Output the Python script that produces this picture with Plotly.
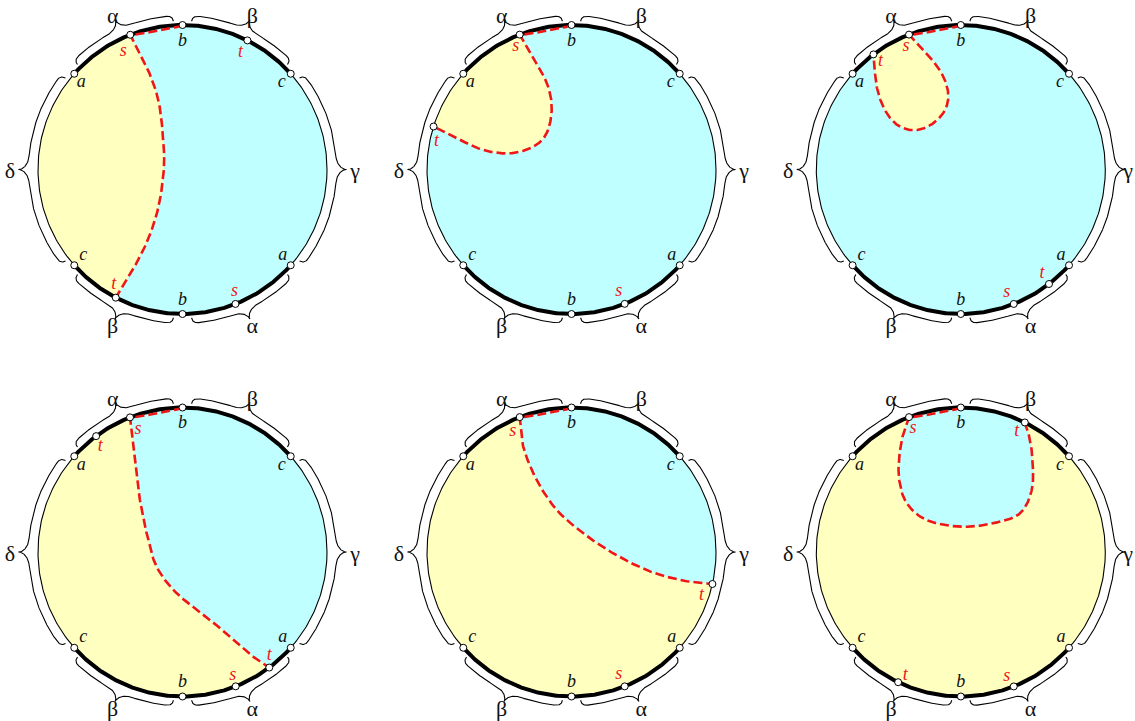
import numpy as np
import plotly.graph_objects as go

# ---------------- data ----------------
FIXED_NAMES = ["b", "a", "c", "c", "a", "b"]
FIXED_ANGLES = [90.0, 138.5, 41.5, 221.5, 318.5, 270.0]
BRACE_NAMES = ["α", "β", "γ", "δ", "β", "α"]
BRACE_MID = [114.25, 65.75, 0.0, 180.0, 245.75, 294.25]
BRACE_HALF = [20.75, 20.75, 38.0, 38.0, 20.75, 20.75]
THICK_ARCS = [[41.5, 138.5], [221.5, 318.5]]

S_POINTS = [[111.2, 291.5], [111.0, 291.6], [111.0, 291.5], [111.3, 291.6], [111.0, 291.6], [111.0, 291.5]]
T_POINTS = [[63.3, 242.5], [162.7], [127.2, 307.6], [126.7, 306.9], [347.2], [63.7, 244.3]]
CURVE_END = [242.5, 162.7, 127.2, 306.9, -12.8, 63.7]
REGION_COLOR = ["yellow", "yellow", "yellow", "yellow", "cyan", "cyan"]

CURVE_1 = [(-0.248, 0.711), (-0.167, 0.481), (-0.133, 0.204), (-0.128, 0.019), (-0.156, -0.211),
           (-0.213, -0.419), (-0.294, -0.603), (-0.375, -0.742)]
CURVE_2 = [(-0.241, 0.735), (-0.161, 0.573), (-0.137, 0.412), (-0.172, 0.251), (-0.264, 0.158),
           (-0.426, 0.112), (-0.610, 0.135), (-0.794, 0.216)]
CURVE_3 = [(-0.236, 0.804), (-0.132, 0.666), (-0.087, 0.527), (-0.109, 0.412), (-0.190, 0.320),
           (-0.305, 0.273), (-0.421, 0.296), (-0.513, 0.389), (-0.571, 0.527), (-0.594, 0.666)]
CURVE_4 = [(-0.340, 0.729), (-0.306, 0.429), (-0.248, 0.129), (-0.179, -0.102), (-0.040, -0.286),
           (0.167, -0.448), (0.352, -0.609), (0.490, -0.725)]
CURVE_5 = [(-0.334, 0.729), (-0.241, 0.498), (-0.102, 0.291), (0.082, 0.129), (0.289, -0.009),
           (0.520, -0.125), (0.751, -0.194)]
CURVE_6 = [(-0.398, 0.821), (-0.426, 0.660), (-0.426, 0.498), (-0.374, 0.337), (-0.236, 0.221),
           (-0.006, 0.175), (0.225, 0.199), (0.410, 0.268), (0.491, 0.429), (0.498, 0.614), (0.479, 0.775)]
CURVES = [CURVE_1, CURVE_2, CURVE_3, CURVE_4, CURVE_5, CURVE_6]

# ---------------- layout / style ----------------
CENTERS = [(182.5, 169.5), (571.5, 169.5), (960.8, 169.5),
           (182.5, 552.0), (571.5, 552.0), (960.8, 552.0)]
R = 144.5
FIXED_LABEL_OFF = [(0, 16), (7, 9), (-9, 9), (9, -10), (-8, -10), (0, -14)]
S_LABEL_OFF = [[(-7, 17), (-1, -12)], [(-4, 12), (-6, -12)], [(-3, 12), (-7, -11)],
               [(8, 12), (-3, -11)], [(-7, 14), (-6, -12)], [(4, 11), (-7, -10)]]
T_LABEL_OFF = [[(-7, 12), (-2, -13)], [(3, 15)], [(7, 7), (-7, -10)],
               [(4, 10), (0, -12)], [(-11, 11)], [(-8, 9), (7, -7)]]
COL = {"yellow": "#FFFFC0", "cyan": "#C0FFFF"}
RED = "rgb(238,22,22)"
SERIF = "Liberation Serif, Times New Roman, DejaVu Serif, serif"
FIG_W, FIG_H = 1135, 721


def pt(cx, cy, ang, rad=R):
    a = np.radians(ang)
    return cx + rad * np.cos(a), cy - rad * np.sin(a)


def catmull(pts, n=24):
    pts = np.asarray(pts, dtype=float)
    P = np.vstack([2 * pts[0] - pts[1], pts, 2 * pts[-1] - pts[-2]])
    out = []
    for i in range(1, len(P) - 2):
        p0, p1, p2, p3 = P[i - 1], P[i], P[i + 1], P[i + 2]
        t = np.linspace(0, 1, n, endpoint=False)[:, None]
        out.append(0.5 * ((2 * p1) + (-p0 + p2) * t + (2 * p0 - 5 * p1 + 4 * p2 - p3) * t ** 2
                          + (-p0 + 3 * p1 - 3 * p2 + p3) * t ** 3))
    out.append(P[-2][None, :])
    return np.vstack(out)


def brace(cx, cy, mid, half):
    Rb = R + 9.5
    a0 = np.radians(mid - half)
    a1 = np.radians(mid + half)
    L = (a1 - a0) * Rb / 2
    u = np.linspace(0, 2 * L, 801)
    d = np.minimum(u, 2 * L - u)
    k1, k2 = 6.0, 13.0
    e, bd, tip = 4.0, 9.5, 19.5
    hook = e + (bd - e) * np.sqrt(np.clip(1 - (1 - d / k1) ** 2, 0, 1))
    tipc = bd + (tip - bd) * (1 - np.sqrt(np.clip(1 - ((d - (L - k2)) / k2) ** 2, 0, 1)))
    off = np.where(d < k1, hook, np.where(d < L - k2, bd, tipc))
    ang = a0 + u / Rb
    r = R + off
    return cx + r * np.cos(ang), cy - r * np.sin(ang)


fig = go.Figure()


def add_line(x, y, color, width, dash=None, fill=None, fillcolor=None):
    fig.add_trace(go.Scatter(x=list(x), y=list(y), mode="lines",
                             line=dict(color=color, width=width, dash=dash),
                             fill=fill, fillcolor=fillcolor,
                             hoverinfo="skip", showlegend=False))


for p, (cx, cy) in enumerate(CENTERS):
    reg = REGION_COLOR[p]
    base = "cyan" if reg == "yellow" else "yellow"
    th = np.linspace(0, 360, 361)
    bx, by = pt(cx, cy, th)
    add_line(bx, by, "rgba(0,0,0,0)", 0, fill="toself", fillcolor=COL[base])

    s_ang = S_POINTS[p][0]
    t_ang = CURVE_END[p]
    sx, sy = np.cos(np.radians(s_ang)), np.sin(np.radians(s_ang))
    tx, ty = np.cos(np.radians(t_ang)), np.sin(np.radians(t_ang))
    ctrl = [(sx, sy)] + list(CURVES[p]) + [(tx, ty)]
    cv = catmull(ctrl)
    cxs = cx + R * cv[:, 0]
    cys = cy - R * cv[:, 1]

    arc = np.linspace(t_ang, s_ang, 200)
    ax_, ay_ = pt(cx, cy, arc)
    add_line(np.concatenate([cxs, ax_]), np.concatenate([cys, ay_]), "rgba(0,0,0,0)", 0,
             fill="toself", fillcolor=COL[reg])

    add_line(bx, by, "black", 1.1)
    for a0, a1 in THICK_ARCS:
        tt = np.linspace(a0, a1, 200)
        x_, y_ = pt(cx, cy, tt)
        add_line(x_, y_, "black", 4)

    uu = np.linspace(0, 1, 40)
    hug_ang = 90 + (s_ang - 90) * uu
    hug_r = R - 3.5 * np.sin(np.pi * uu) ** 0.6
    hx, hy = pt(cx, cy, hug_ang, hug_r)
    add_line(np.concatenate([hx, cxs[1:]]), np.concatenate([hy, cys[1:]]), RED, 2.6, dash="9px,4px")

    for name, mid, half in zip(BRACE_NAMES, BRACE_MID, BRACE_HALF):
        x_, y_ = brace(cx, cy, mid, half)
        add_line(x_, y_, "black", 1.1)

    angs = FIXED_ANGLES + S_POINTS[p] + T_POINTS[p]
    px, py = pt(cx, cy, np.array(angs))
    fig.add_trace(go.Scatter(x=px, y=py, mode="markers",
                             marker=dict(size=7, color="white", line=dict(color="black", width=1)),
                             hoverinfo="skip", showlegend=False))

    lx, ly, lt = [], [], []
    for name, ang, off in zip(FIXED_NAMES, FIXED_ANGLES, FIXED_LABEL_OFF):
        x0, y0 = pt(cx, cy, ang)
        lx.append(x0 + off[0]); ly.append(y0 + off[1]); lt.append(f"<i>{name}</i>")
    fig.add_trace(go.Scatter(x=lx, y=ly, text=lt, mode="text", cliponaxis=False,
                             textfont=dict(family=SERIF, size=18, color="#111"),
                             hoverinfo="skip", showlegend=False))
    rx, ry, rt = [], [], []
    for ang, off in zip(S_POINTS[p], S_LABEL_OFF[p]):
        x0, y0 = pt(cx, cy, ang)
        rx.append(x0 + off[0]); ry.append(y0 + off[1]); rt.append("<i>s</i>")
    for ang, off in zip(T_POINTS[p], T_LABEL_OFF[p]):
        x0, y0 = pt(cx, cy, ang)
        rx.append(x0 + off[0]); ry.append(y0 + off[1]); rt.append("<i>t</i>")
    fig.add_trace(go.Scatter(x=rx, y=ry, text=rt, mode="text", cliponaxis=False,
                             textfont=dict(family=SERIF, size=18, color=RED),
                             hoverinfo="skip", showlegend=False))
    gx, gy = [], []
    for name, mid in zip(BRACE_NAMES, BRACE_MID):
        rl = 172.5 if name in ("γ", "δ") else 170.0
        x0, y0 = pt(cx, cy, mid, rl)
        x0 = min(x0, FIG_W - 7)  # keep the label inside the page
        gx.append(x0); gy.append(y0 + 3)
    fig.add_trace(go.Scatter(x=gx, y=gy, text=BRACE_NAMES, mode="text", cliponaxis=False,
                             textfont=dict(family=SERIF, size=22, color="#111"),
                             hoverinfo="skip", showlegend=False))

fig.update_layout(
    width=FIG_W, height=FIG_H,
    margin=dict(l=0, r=0, t=0, b=0),
    paper_bgcolor="white", plot_bgcolor="white",
    xaxis=dict(range=[0, FIG_W], visible=False, fixedrange=True),
    yaxis=dict(range=[FIG_H, 0], visible=False, fixedrange=True),
    hovermode=False,
)
fig.write_html("out.html", config={"displayModeBar": False},
               post_script="document.body.style.margin='0';document.body.style.overflow='hidden';")
